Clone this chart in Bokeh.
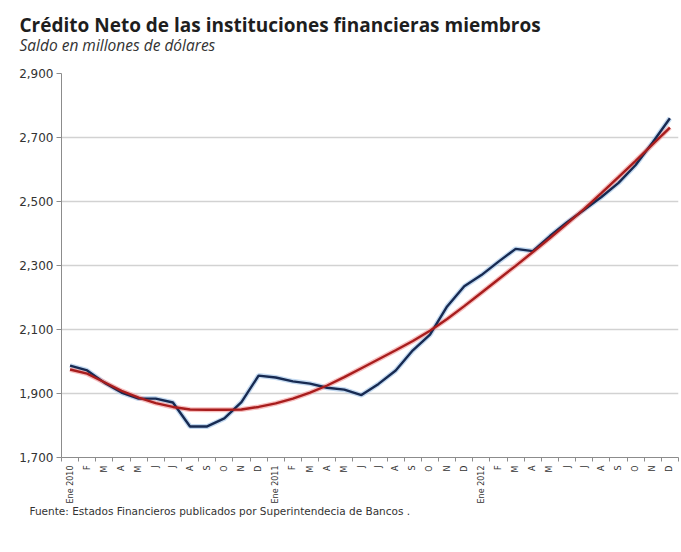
import math
from bokeh.plotting import figure
from bokeh.models import FixedTicker, NumeralTickFormatter, Title, Range1d
from bokeh.embed import file_html
from bokeh.resources import INLINE

meses = ["Ene 2010", "F", "M", "A", "M", "J", "J", "A", "S", "O", "N", "D",
         "Ene 2011", "F", "M", "A", "M", "J", "J", "A", "S", "O", "N", "D",
         "Ene 2012", "F", "M", "A", "M", "J", "J", "A", "S", "O", "N", "D"]

credito = [1987, 1972, 1934, 1903, 1884, 1884, 1872, 1797, 1797, 1822, 1873, 1956,
           1950, 1938, 1931, 1918, 1912, 1895, 1930, 1972, 2035, 2084, 2172, 2235,
           2270, 2312, 2352, 2345, 2392, 2435, 2474, 2514, 2558, 2614, 2685, 2760]

tendencia = [1975, 1962, 1935, 1908, 1887, 1870, 1858, 1850, 1849, 1849, 1850, 1858,
             1869, 1884, 1903, 1925, 1951, 1979, 2007, 2035, 2064, 2096, 2133, 2173,
             2215, 2257, 2299, 2342, 2386, 2431, 2477, 2526, 2576, 2627, 2679, 2731]

y_ticks = [1700, 1900, 2100, 2300, 2500, 2700, 2900]

idx = list(range(len(meses)))

p = figure(width=679, height=536, output_backend="svg", toolbar_location=None,
           x_range=Range1d(-0.5, len(meses) - 0.5), y_range=Range1d(1700, 2900),
           min_border_left=61, min_border_right=1, min_border_top=73, min_border_bottom=79,
           background_fill_color="white", border_fill_color="white")
p.outline_line_color = None

# titles (stacked upward from the plot frame)
sub = Title(text="Saldo en millones de dólares", text_font="Open Sans", text_font_style="italic",
            text_font_size="15.5px", text_color="#333333", align="left", offset=-42, standoff=35)
tit = Title(text="Crédito Neto de las instituciones financieras miembros", text_font="Open Sans",
            text_font_style="bold", text_font_size="19px", text_color="#1e1e1e", align="left",
            offset=-42, standoff=-46)
p.add_layout(sub, "above")
p.add_layout(tit, "above")

foot = Title(text="Fuente: Estados Financieros publicados por Superintendecia de Bancos .",
             text_font="DejaVu Sans", text_font_style="normal", text_font_size="10.5px",
             text_color="#333333", align="left", offset=-32, standoff=-8)
p.add_layout(foot, "below")

# lines (halo + main)
p.line(idx, credito, line_color="#a9c9ea", line_width=5, line_alpha=0.7)
p.line(idx, tendencia, line_color="#f3a3a3", line_width=5, line_alpha=0.7)
p.line(idx, credito, line_color="#172a52", line_width=2.4)
p.line(idx, tendencia, line_color="#a81d1d", line_width=2.4)

# x axis
xa = p.xaxis[0]
xa.ticker = FixedTicker(ticks=idx, minor_ticks=[i - 0.5 for i in range(len(meses) + 1)])
xa.major_label_overrides = {i: m for i, m in enumerate(meses)}
xa.major_label_orientation = math.pi / 2
xa.major_tick_line_color = None
xa.major_tick_out = 0
xa.major_tick_in = 0
xa.minor_tick_out = 4
xa.minor_tick_in = 0
xa.minor_tick_line_color = "#8c8c8c"
xa.axis_line_color = "#8c8c8c"
xa.major_label_text_font = "DejaVu Sans"
xa.major_label_text_font_size = "8px"
xa.major_label_text_color = "#333333"
xa.major_label_standoff = 4

# y axis
ya = p.yaxis[0]
ya.ticker = FixedTicker(ticks=y_ticks)
ya.formatter = NumeralTickFormatter(format="0,0")
ya.major_tick_out = 5
ya.major_tick_in = 0
ya.minor_tick_line_color = None
ya.major_tick_line_color = "#8c8c8c"
ya.axis_line_color = "#8c8c8c"
ya.major_label_text_font = "DejaVu Sans"
ya.major_label_text_font_size = "12px"
ya.major_label_text_color = "#333333"
ya.major_label_standoff = 3

p.xgrid.grid_line_color = None
p.ygrid.grid_line_color = "#d2d2d2"
p.ygrid.grid_line_width = 1.5
p.ygrid.ticker = FixedTicker(ticks=y_ticks)

open("out.html", "w").write(file_html(p, INLINE))
